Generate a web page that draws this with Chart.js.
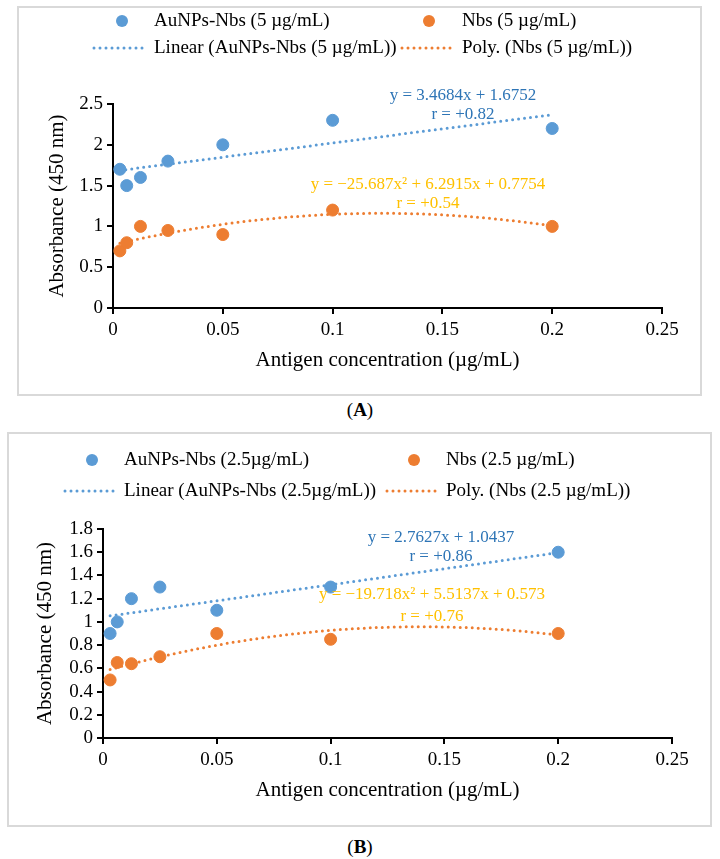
<!DOCTYPE html>
<html>
<head>
<meta charset="utf-8">
<script src="https://cdn.jsdelivr.net/npm/chart.js@4"></script>
<style>
  body { margin: 0; background: #fff; width: 720px; height: 859px; position: relative; font-family: "Liberation Serif", "Times New Roman", serif; }
  .panel { position: absolute; }
  .panel canvas { position: absolute; left: 0; top: 0; }
  .frame { position: absolute; left: 0; top: 0; right: 0; bottom: 0; border: 2px solid #d9d9d9; box-sizing: border-box; pointer-events: none; }
  .cap { position: absolute; left: 0; width: 720px; text-align: center; font-size: 19px; line-height: 22px; color: #000; }
</style>
</head>
<body>
<div class="panel" id="panelA" style="left:17px;top:6px;width:685px;height:390px;">
  <canvas id="chartA"></canvas><div class="frame"></div>
</div>
<div class="cap" style="top:399px;">(<b>A</b>)</div>
<div class="panel" id="panelB" style="left:7px;top:432px;width:705px;height:395px;">
  <canvas id="chartB"></canvas><div class="frame"></div>
</div>
<div class="cap" style="top:836px;">(<b>B</b>)</div>

<script>
// antigen concentrations (µg/mL), shared by both panels
const concentrations = [0.003125, 0.00625, 0.0125, 0.025, 0.05, 0.1, 0.2];

// panel A absorbances
const auNpsA = [1.7, 1.5, 1.6, 1.8, 2.0, 2.3, 2.2];
const nbsA = [0.7, 0.8, 1.0, 0.95, 0.9, 1.2, 1.0];
// panel B absorbances
const auNpsB = [0.9, 1.0, 1.2, 1.3, 1.1, 1.3, 1.6];
const nbsB = [0.5, 0.65, 0.64, 0.7, 0.9, 0.85, 0.9];

// trendline coefficients as printed on the chart (c0, c1, c2)
const linCoefA = [1.6752, 3.4684];
const polyCoefA = [0.7754, 6.2915, -25.687];
const linCoefB = [1.0437, 2.7627];
const polyCoefB = [0.573, 5.5137, -19.718];

const xTickLabels = ['0', '0.05', '0.1', '0.15', '0.2', '0.25'];
const yTickLabelsA = ['0', '0.5', '1', '1.5', '2', '2.5'];
const yTickLabelsB = ['0', '0.2', '0.4', '0.6', '0.8', '1', '1.2', '1.4', '1.6', '1.8'];

const legendA = ['AuNPs-Nbs (5 µg/mL)', 'Nbs (5 µg/mL)', 'Linear (AuNPs-Nbs (5 µg/mL))', 'Poly. (Nbs (5 µg/mL))'];
const legendB = ['AuNPs-Nbs (2.5µg/mL)', 'Nbs (2.5 µg/mL)', 'Linear (AuNPs-Nbs (2.5µg/mL))', 'Poly. (Nbs (2.5 µg/mL))'];
const equationsA = ['y = 3.4684x + 1.6752', 'r = +0.82', 'y = −25.687x² + 6.2915x + 0.7754', 'r = +0.54'];
const equationsB = ['y = 2.7627x + 1.0437', 'r = +0.86', 'y = −19.718x² + 5.5137x + 0.573', 'r = +0.76'];

const BLUE = '#5b9bd5';
const ORANGE = '#ed7d31';
const EQ_BLUE = '#2e75b6';
const EQ_GOLD = '#ffc000';
const FONT = '"Liberation Serif", "Times New Roman", serif';

function evalPoly(coefs, x) {
  return coefs.reduce((s, c, k) => s + c * Math.pow(x, k), 0);
}

function trendPoints(coefs) {
  const pts = [];
  const x0 = concentrations[0], x1 = concentrations[concentrations.length - 1];
  const n = 80;
  for (let i = 0; i <= n; i++) {
    const x = x0 + (x1 - x0) * i / n;
    pts.push({ x: x, y: evalPoly(coefs, x) });
  }
  return pts;
}

function buildChart(id, p) {
  const canvas = document.getElementById(id);
  canvas.width = p.w;
  canvas.height = p.h;

  // legend + equation text, drawn after the chart
  const overlay = {
    id: 'overlay',
    afterDraw(chart) {
      const ctx = chart.ctx;
      const L = p.legend;
      ctx.save();
      ctx.font = '19px ' + FONT;
      ctx.fillStyle = '#000';
      ctx.textBaseline = 'middle';
      ctx.textAlign = 'left';
      // marker rows
      [[BLUE, L.m1, L.t1, p.legendText[0]], [ORANGE, L.m2, L.t2, p.legendText[1]]].forEach(r => {
        ctx.fillStyle = r[0];
        ctx.beginPath();
        ctx.arc(r[1], L.row1, 6, 0, Math.PI * 2);
        ctx.fill();
        ctx.fillStyle = '#000';
        ctx.fillText(r[3], r[2], L.row1);
      });
      // trendline rows
      [[BLUE, L.l1, L.t1, p.legendText[2]], [ORANGE, L.l2, L.t2, p.legendText[3]]].forEach(r => {
        ctx.strokeStyle = r[0];
        ctx.lineWidth = 3;
        ctx.lineCap = 'round';
        ctx.setLineDash([0, 6]);
        ctx.beginPath();
        ctx.moveTo(r[1][0], L.row2);
        ctx.lineTo(r[1][1], L.row2);
        ctx.stroke();
        ctx.setLineDash([]);
        ctx.fillStyle = '#000';
        ctx.fillText(r[3], r[2], L.row2);
      });
      // equations
      ctx.font = '17px ' + FONT;
      ctx.textAlign = 'center';
      p.eqPos.forEach((pos, i) => {
        ctx.fillStyle = i < 2 ? EQ_BLUE : EQ_GOLD;
        ctx.fillText(p.equations[i], pos[0], pos[1]);
      });
      ctx.restore();
    }
  };

  const tickFont = { family: FONT, size: 19 };
  const titleFont = { family: FONT, size: 21, lineHeight: 1.2 };

  new Chart(canvas, {
    type: 'scatter',
    data: {
      datasets: [
        { data: concentrations.map((x, i) => ({ x: x, y: p.au[i] })), backgroundColor: BLUE, borderColor: BLUE, pointRadius: 6, order: 0 },
        { data: concentrations.map((x, i) => ({ x: x, y: p.nb[i] })), backgroundColor: ORANGE, borderColor: ORANGE, pointRadius: 6, order: 0 },
        { data: trendPoints(p.lin), showLine: true, borderColor: BLUE, borderWidth: 3, borderDash: [0, 6], borderCapStyle: 'round', pointRadius: 0, order: 1 },
        { data: trendPoints(p.poly), showLine: true, borderColor: ORANGE, borderWidth: 3, borderDash: [0, 6], borderCapStyle: 'round', pointRadius: 0, order: 1 }
      ]
    },
    options: {
      responsive: false,
      animation: false,
      layout: { padding: { left: 0, top: p.plotTop, right: p.w - p.plotRight, bottom: 0 } },
      plugins: { legend: { display: false }, tooltip: { enabled: false } },
      scales: {
        x: {
          type: 'linear', min: 0, max: 0.25,
          ticks: { stepSize: 0.05, callback: (v, i) => xTickLabels[i], color: '#000', font: tickFont, padding: 5, maxRotation: 0, autoSkip: false },
          grid: { drawOnChartArea: false, tickLength: 6, color: '#000', lineWidth: 2 },
          border: { color: '#000', width: 2 },
          title: { display: true, text: 'Antigen concentration (µg/mL)', color: '#000', font: titleFont, padding: { top: 0, bottom: p.xTitlePad } },
          afterFit: s => { s.height = p.h - p.plotBottom; }
        },
        y: {
          min: 0, max: p.yMax,
          ticks: { stepSize: p.yStep, callback: (v, i) => p.yLabels[i], color: '#000', font: tickFont, padding: 4, autoSkip: false },
          grid: { drawOnChartArea: false, tickLength: 6, color: '#000', lineWidth: 2 },
          border: { color: '#000', width: 2 },
          title: { display: true, text: 'Absorbance (450 nm)', color: '#000', font: titleFont, padding: { top: p.yTitlePad, bottom: 0 } },
          afterFit: s => { s.width = p.plotLeft; }
        }
      }
    },
    plugins: [overlay]
  });
}

buildChart('chartA', {
  w: 685, h: 390,
  plotLeft: 96, plotRight: 645, plotTop: 98, plotBottom: 302,
  xTitlePad: 23.4, yTitlePad: 27.4,
  yMax: 2.5, yStep: 0.5, yLabels: yTickLabelsA,
  au: auNpsA, nb: nbsA, lin: linCoefA, poly: polyCoefA,
  legendText: legendA,
  legend: { row1: 15, row2: 42, m1: 105, t1: 137, m2: 412, t2: 445, l1: [77, 130], l2: [385, 437] },
  equations: equationsA,
  eqPos: [[446, 90], [446, 109], [411, 179], [411, 198]]
});

buildChart('chartB', {
  w: 705, h: 395,
  plotLeft: 96, plotRight: 665, plotTop: 97, plotBottom: 306,
  xTitlePad: 24.4, yTitlePad: 26,
  yMax: 1.8, yStep: 0.2, yLabels: yTickLabelsB,
  au: auNpsB, nb: nbsB, lin: linCoefB, poly: polyCoefB,
  legendText: legendB,
  legend: { row1: 28, row2: 59, m1: 85, t1: 117, m2: 407, t2: 439, l1: [58, 110], l2: [380, 432] },
  equations: equationsB,
  eqPos: [[434, 106], [434, 125], [425, 163], [425, 185]]
});
</script>
</body>
</html>
